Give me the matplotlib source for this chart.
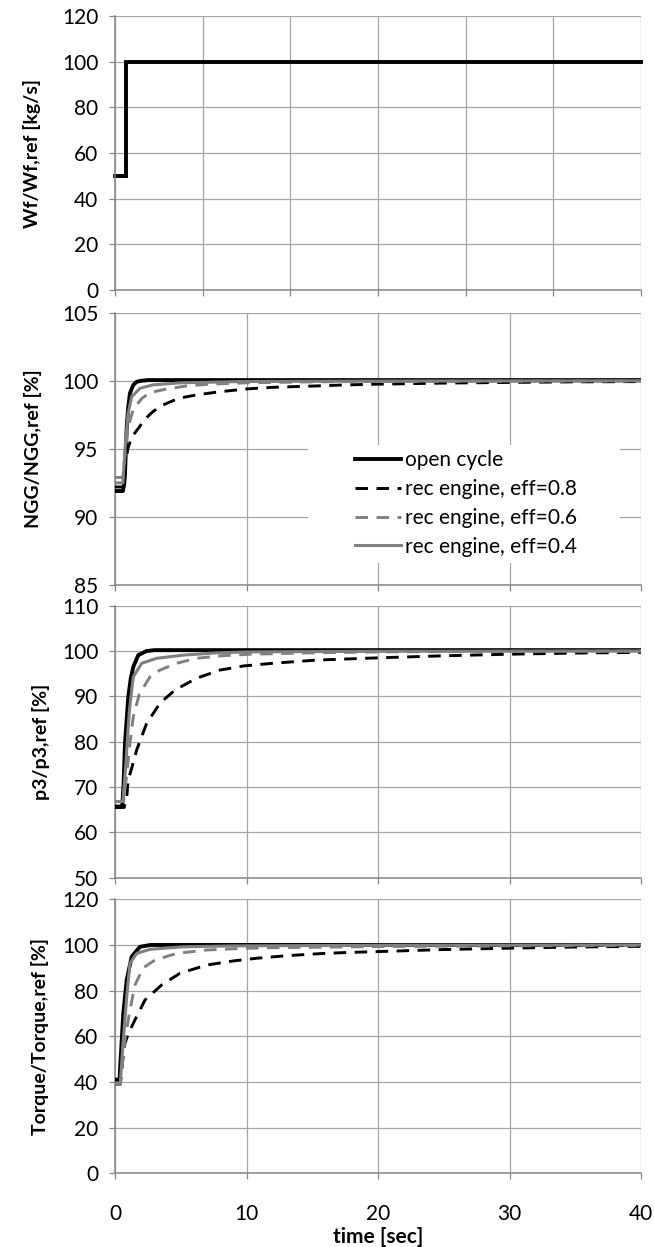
import matplotlib
matplotlib.use("Agg")
import matplotlib.pyplot as plt
from matplotlib.patches import Rectangle

plt.rcParams['font.family'] = ['Lato', 'DejaVu Sans']

# ---------------- data ----------------
wf_t = [0, 0.6, 0.6, 30]
wf_v = [50, 50, 100, 100]

series_labels = ["open cycle", "rec engine, eff=0.8", "rec engine, eff=0.6", "rec engine, eff=0.4"]

ngg_t_open = [0, 0.6, 0.7, 0.76, 0.89, 1.0, 1.14, 1.4, 1.65, 2.0, 2.5, 40]
ngg_open = [91.9, 91.9, 92.4, 93.2, 96.6, 98.0, 99.1, 99.7, 99.93, 100.0, 100.05, 100.05]
ngg_t_08 = [0, 0.65, 0.8, 1.0, 1.3, 1.77, 2.3, 2.9, 3.6, 4.56, 5.3, 6.2, 8.0, 10, 12, 15.3, 17.6, 20, 25, 30, 35, 40]
ngg_08 = [92.2, 92.2, 94.0, 95.1, 95.9, 96.5, 97.2, 97.75, 98.2, 98.6, 98.8, 98.96, 99.2, 99.4, 99.52, 99.62, 99.7, 99.75, 99.83, 99.88, 99.92, 99.94]
ngg_t_06 = [0, 0.6, 0.8, 1.0, 1.39, 2.03, 2.66, 3.93, 5.45, 7.2, 10, 15, 20, 30, 40]
ngg_06 = [92.9, 92.9, 95.0, 96.6, 97.9, 98.7, 99.13, 99.4, 99.62, 99.75, 99.85, 99.92, 99.95, 99.97, 99.98]
ngg_t_04 = [0, 0.6, 0.8, 1.0, 1.27, 1.9, 2.9, 5, 10, 20, 40]
ngg_04 = [92.5, 92.5, 95.5, 97.6, 98.83, 99.45, 99.7, 99.85, 99.95, 99.98, 100.0]

p3_t_open = [0, 0.55, 0.65, 0.76, 1.01, 1.2, 1.39, 1.77, 2.4, 3.0, 40]
p3_open = [65.7, 65.7, 70.5, 79.6, 89.9, 94.0, 96.5, 99.1, 100.0, 100.2, 100.2]
p3_t_08 = [0, 0.7, 0.9, 1.0, 1.3, 1.65, 2.4, 3.42, 4.56, 6.2, 7.98, 9.75, 12, 15.3, 20, 25, 30, 35, 40]
p3_08 = [65.5, 65.5, 68, 71.5, 74.5, 78.2, 84.0, 88.5, 91.4, 94.0, 95.8, 96.7, 97.3, 98.0, 98.5, 98.95, 99.3, 99.55, 99.7]
p3_t_06 = [0, 0.65, 0.9, 1.15, 1.39, 1.85, 2.66, 3.42, 4.69, 6.2, 8.2, 10.3, 15, 20, 30, 40]
p3_06 = [66.8, 66.8, 73, 80, 85.5, 90.5, 94.3, 95.8, 97.3, 98.4, 98.97, 99.3, 99.6, 99.8, 99.95, 100.0]
p3_t_04 = [0, 0.6, 0.8, 1.0, 1.1, 1.39, 2.03, 3.17, 5.2, 7.75, 10, 20, 40]
p3_04 = [66.8, 66.8, 74, 83, 87, 94.3, 97.3, 98.4, 99.1, 99.6, 99.8, 99.95, 100.0]

tq_t_open = [0, 0.35, 0.38, 0.63, 0.89, 1.27, 1.9, 2.7, 40]
tq_open = [41, 41, 45, 70, 84.7, 94.9, 99.2, 100, 100]
tq_t_08 = [0, 0.4, 0.6, 0.76, 1.0, 1.39, 2.28, 3.55, 4.94, 6.97, 8.99, 10.8, 13.05, 15.6, 17.6, 20, 25, 30, 35, 40]
tq_08 = [39, 39, 50, 56.9, 61, 65.7, 75.9, 82.5, 87.6, 91.2, 93, 94.2, 95.3, 96.2, 96.7, 97.1, 98.0, 98.6, 99.1, 99.4]
tq_t_06 = [0, 0.4, 0.6, 0.8, 1.14, 1.52, 2.15, 3.04, 4.69, 6.97, 9.75, 12, 20, 30, 40]
tq_06 = [39, 39, 50, 60, 71.5, 82.5, 90, 93.4, 96.3, 97.8, 98.5, 98.8, 99.3, 99.6, 99.8]
tq_t_04 = [0, 0.4, 0.63, 0.89, 1.14, 1.65, 2.66, 5.2, 9, 20, 40]
tq_04 = [39, 39, 58.4, 77.3, 92, 96.3, 98.1, 99.2, 99.6, 99.85, 100]

ylabels = ["Wf/Wf,ref [kg/s]", "NGG/NGG,ref [%]", "p3/p3,ref [%]", "Torque/Torque,ref [%]"]
ylims = [(0, 120), (85, 105), (50, 110), (0, 120)]
ysteps = [20, 5, 10, 20]
x_ticks = [0, 10, 20, 30, 40]
xlabel = "time [sec]"

# ---------------- layout ----------------
W, H = 654, 1247
fig = plt.figure(figsize=(W / 100, H / 100), dpi=100)
left_px, right_px = 115, 641
panels_px = [(16, 290), (312.7, 585), (605.7, 877.7), (899.3, 1173.3)]
label_x_px = [41, 42, 50, 49]   # right edge of rotated y labels

GRID = '#a6a6a6'
SPINE = '#868686'
GRAY = '#808080'
FS = 15
LFS = 14

styles = [
    dict(color='black', lw=2.8, ls='-'),
    dict(color='black', lw=2.1, dashes=(4.3, 2.9)),
    dict(color=GRAY, lw=2.1, dashes=(4.3, 2.9)),
    dict(color=GRAY, lw=2.2, ls='-'),
]

axes = []
for i, (top, bot) in enumerate(panels_px):
    ax = fig.add_axes([left_px / W, 1 - bot / H, (right_px - left_px) / W, (bot - top) / H])
    axes.append(ax)
    lo, hi = ylims[i]
    ax.set_ylim(lo, hi)
    ax.set_yticks(list(range(lo, hi + 1, ysteps[i])))
    if i == 0:
        ax.set_xlim(0, 30)
        ax.set_xticks([0, 5, 10, 15, 20, 25, 30])
    else:
        ax.set_xlim(0, 40)
        ax.set_xticks(x_ticks)
    ax.set_axisbelow(True)
    ax.grid(True, color=GRID, lw=0.9)
    for s in ['top', 'right']:
        ax.spines[s].set_visible(False)
    for s in ['left', 'bottom']:
        ax.spines[s].set_color(SPINE)
        ax.spines[s].set_linewidth(1.1)
    ax.tick_params(axis='both', direction='out', length=4, width=0.9, color=SPINE,
                   labelsize=FS, labelcolor='black')
    ax.tick_params(axis='y', pad=8)
    ax.tick_params(axis='x', pad=18)
    if i != 3:
        ax.tick_params(axis='x', labelbottom=False)
    ax.set_ylabel(ylabels[i], fontsize=LFS, fontweight='bold')
    ax.yaxis.set_label_coords((label_x_px[i] - left_px) / (right_px - left_px), 0.5)

axes[0].plot(wf_t, wf_v, color='black', lw=2.8, clip_on=False, solid_joinstyle='miter')

sets = [
    [(ngg_t_open, ngg_open), (ngg_t_08, ngg_08), (ngg_t_06, ngg_06), (ngg_t_04, ngg_04)],
    [(p3_t_open, p3_open), (p3_t_08, p3_08), (p3_t_06, p3_06), (p3_t_04, p3_04)],
    [(tq_t_open, tq_open), (tq_t_08, tq_08), (tq_t_06, tq_06), (tq_t_04, tq_04)],
]
handles = []
for k, data in enumerate(sets):
    ax = axes[k + 1]
    for j, (t, v) in enumerate(data):
        ln, = ax.plot(t, v, label=series_labels[j], zorder=3 + j, **styles[j])
        if k == 0:
            handles.append(ln)

# legend box (white, no border) in panel 2
ax2 = axes[1]
ax2.add_patch(Rectangle((0.367, 0.081), 0.593, 0.433, transform=ax2.transAxes,
                        facecolor='white', edgecolor='none', zorder=1.5))
leg = fig.legend(handles, series_labels, loc='center left',
                 bbox_to_anchor=(355 / W, 1 - 503.5 / H), frameon=False,
                 fontsize=FS, handlelength=2.2, handletextpad=0.2,
                 labelspacing=0.42, borderpad=0, borderaxespad=0)

axes[3].set_xlabel(xlabel, fontsize=LFS + 1, fontweight='bold', labelpad=2)

fig.savefig("out.png", dpi=100)
